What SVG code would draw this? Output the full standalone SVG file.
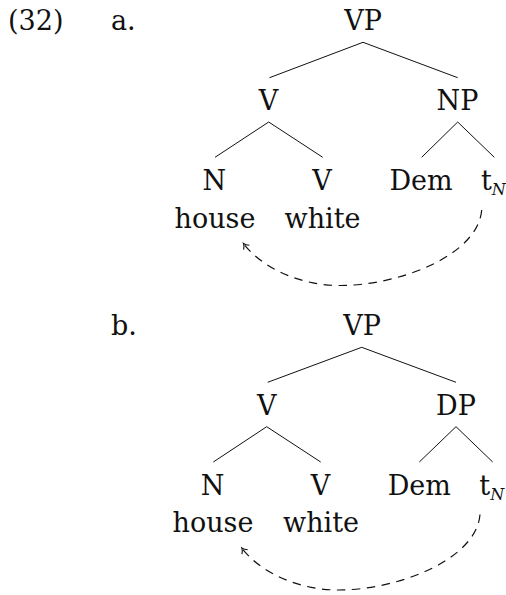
<svg xmlns="http://www.w3.org/2000/svg" width="506" height="595" viewBox="0 0 506 595">
<style>
text{font-family:"DejaVu Serif","Liberation Serif",serif;font-size:27px;fill:#111;}
.m{text-anchor:middle;}
.sub{font-size:16px;font-style:italic;}
.e{stroke:#111;stroke-width:1;fill:none;}
.mv{stroke:#111;stroke-width:1.2;fill:none;stroke-dasharray:8.5 6.5;}
</style>
<defs>
<marker id="ah" markerUnits="userSpaceOnUse" viewBox="-6 -5 7 10" markerWidth="7" markerHeight="10" refX="0" refY="0" orient="auto" overflow="visible">
<path d="M-5,-3.6 C-3.2,-1.5 -1,-0.3 0,0 C-1,0.3 -3.2,1.5 -5,3.6" stroke="#111" stroke-width="1.1" fill="none" stroke-dasharray="none"/>
</marker>
</defs>
<text x="8" y="30">(32)</text>
<text x="111" y="30">a.</text>
<text x="111" y="334.5">b.</text>
<g id="treeA">
<g id="a-VP"><text class="m" x="363" y="30">VP</text></g>
<g id="a-V"><text class="m" x="268.5" y="110">V</text></g>
<g id="a-NP"><text class="m" x="457.5" y="110">NP</text></g>
<g id="a-N"><text class="m" x="214.3" y="190">N</text><text class="m" x="215" y="228.3">house</text></g>
<g id="a-V2"><text class="m" x="322" y="190">V</text><text class="m" x="322.5" y="228.3">white</text></g>
<g id="a-Dem"><text class="m" x="421" y="190">Dem</text></g>
<g id="a-t"><text x="481" y="190">t<tspan class="sub" dy="5">N</tspan></text></g>
</g>
<g id="treeB">
<g id="b-VP"><text class="m" x="362" y="335">VP</text></g>
<g id="b-V"><text class="m" x="266.8" y="415">V</text></g>
<g id="b-DP"><text class="m" x="456" y="415">DP</text></g>
<g id="b-N"><text class="m" x="212.5" y="494.5">N</text><text class="m" x="213" y="532">house</text></g>
<g id="b-V2"><text class="m" x="320.5" y="494.5">V</text><text class="m" x="321" y="532">white</text></g>
<g id="b-Dem"><text class="m" x="419.3" y="494.5">Dem</text></g>
<g id="b-t"><text x="479.3" y="494.5">t<tspan class="sub" dy="5">N</tspan></text></g>
</g>
<g id="connectors">
<path class="e" d="M269.5,77.7 L363,42.3 L457.7,77.7"/>
<path class="e" d="M215,157.3 L268.7,122 L322.7,157.3"/>
<path class="e" d="M421.7,157.3 L457.7,122 L494.3,157.3"/>
<path class="mv" marker-end="url(#ah)" d="M481.7,210 C478,255 400,285.5 340,285.5 C300,285.5 262,268 243.5,243.5"/>
<path class="e" d="M267.7,382.3 L361.7,347.3 L456,382.3"/>
<path class="e" d="M213.3,462 L266.7,426.7 L320.7,462"/>
<path class="e" d="M419.3,462 L456,426.7 L492.7,462"/>
<path class="mv" marker-end="url(#ah)" d="M480,514.5 C476.3,559.5 398.3,590 338.3,590 C298.3,590 260.3,572.5 241.8,548"/>
</g>
</svg>
